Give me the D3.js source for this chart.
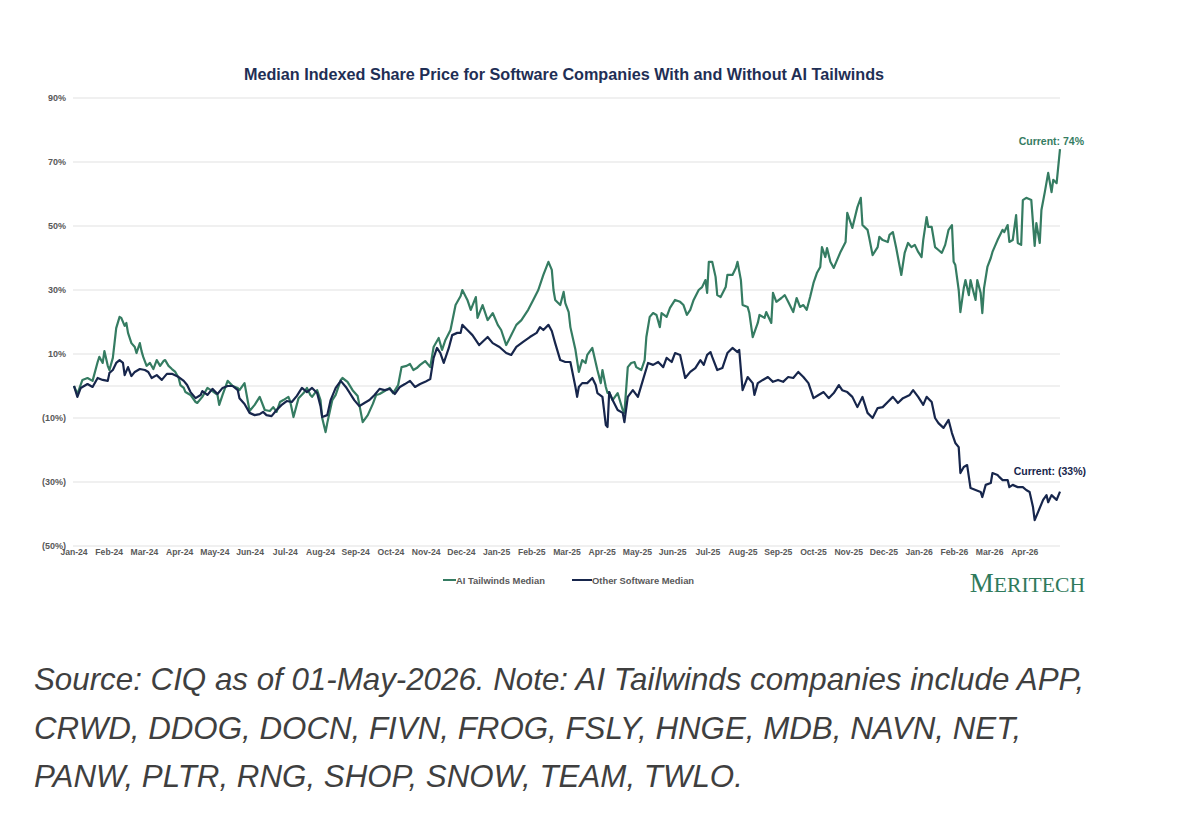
<!DOCTYPE html>
<html>
<head>
<meta charset="utf-8">
<script src="https://cdn.jsdelivr.net/npm/d3@7"></script>
<style>
  html, body { margin: 0; padding: 0; background: #fff; }
  svg { display: block; }
</style>
</head>
<body>
<svg id="chart" width="1200" height="827"></svg>
<script>
// month labels on the category axis (Excel style, evenly spaced)
const months = ["Jan-24","Feb-24","Mar-24","Apr-24","May-24","Jun-24","Jul-24","Aug-24","Sep-24","Oct-24","Nov-24","Dec-24",
  "Jan-25","Feb-25","Mar-25","Apr-25","May-25","Jun-25","Jul-25","Aug-25","Sep-25","Oct-25","Nov-25","Dec-25",
  "Jan-26","Feb-26","Mar-26","Apr-26"];
const yTicks = [90, 70, 50, 30, 10, -10, -30, -50];
const TOTAL_DAYS = 584; // trading days from Jan-24 to 01-May-26

// [trading day, indexed change %]
const aiTailwinds = [
  [0,0],[2,-2.5],[5,1.9],[8,2.5],[11,1.6],[14,7.5],[15,9.1],[17,7.2],[18,10.9],[20,6.3],[21,5.0],[23,8.8],[24,13.4],[25,18.1],
  [27,21.6],[28,21.3],[30,18.8],[31,19.7],[32,16.6],[34,13.4],[36,12.2],[37,10.3],[39,13.4],[40,10.9],[41,9.1],[43,6.3],
  [45,7.2],[47,5.3],[49,8.1],[51,6.3],[53,7.8],[54,8.1],[56,6.3],[58,5.3],[60,4.4],[62,2.5],[63,0.3],[65,-0.6],[66,-1.9],
  [69,-2.8],[72,-5.0],[73,-5.3],[76,-3.4],[79,-0.6],[82,-1.6],[85,-2.8],[86,-5.9],[88,-2.8],[91,1.6],[94,0],[97,-0.6],
  [98,-1.3],[101,0.9],[104,-7.8],[107,-5.9],[110,-3.4],[113,-7.5],[116,-7.8],[118,-6.6],[120,-8.1],[122,-5.0],[124,-4.4],
  [127,-3.4],[128,-4.7],[130,-9.7],[133,-3.8],[136,-2.2],[138,-0.6],[140,-2.8],[141,-3.4],[144,-1.3],[146,-4.4],[147,-10.0],
  [149,-14.4],[150,-11.6],[153,-4.4],[155,-2.8],[158,1.9],[159,2.5],[162,1.3],[165,-1.3],[168,-3.1],[171,-11.3],[174,-9.1],
  [177,-5.6],[179,-2.8],[181,-2.5],[183,-1.9],[185,-1.3],[187,-0.6],[189,-2.2],[192,0.3],[194,5.9],[197,6.3],[199,6.9],
  [201,5.0],[203,5.6],[205,6.6],[208,7.8],[211,5.9],[213,12.2],[216,15.0],[218,11.3],[220,14.4],[223,17.5],[226,25.3],
  [229,28.1],[230,30.0],[233,26.9],[235,23.8],[238,27.8],[239,21.3],[242,25.3],[245,20.6],[248,22.8],[251,19.1],[253,17.5],
  [256,12.8],[259,15.9],[262,19.1],[265,20.6],[269,23.8],[272,26.9],[275,30.0],[278,34.7],[281,38.8],[283,36.3],[284,30.0],
  [285,26.9],[288,25.3],[290,29.4],[291,25.9],[293,23.1],[294,18.4],[297,11.3],[299,4.4],[301,8.1],[303,7.2],[304,9.7],
  [307,11.9],[310,5.0],[312,0.9],[313,5.0],[315,-0.3],[316,-2.2],[317,-1.9],[319,-4.4],[322,-2.2],[325,-7.5],[326,-8.4],
  [328,5.9],[330,7.2],[332,7.5],[333,5.9],[336,5.0],[338,8.1],[339,15.3],[341,21.6],[343,22.8],[345,22.2],[347,18.4],
  [348,22.8],[351,21.6],[353,24.4],[356,26.9],[359,26.3],[361,25.3],[363,22.2],[365,23.8],[367,26.9],[370,30.0],[372,30.9],
  [374,33.1],[375,29.1],[376,38.8],[378,38.8],[380,34.1],[381,28.4],[383,27.8],[386,30.9],[387,34.7],[390,34.7],[392,36.9],
  [393,38.8],[395,33.1],[396,25.3],[399,24.7],[400,22.8],[402,15.3],[405,19.7],[406,22.2],[409,21.3],[410,23.1],[413,19.7],
  [414,29.1],[416,26.3],[419,27.5],[421,28.4],[423,26.3],[426,23.1],[428,27.5],[430,24.7],[432,25.3],[434,23.8],[436,27.8],
  [438,32.2],[440,35.3],[442,37.2],[443,43.4],[445,40.3],[446,43.1],[448,38.8],[450,36.9],[452,39.4],[454,41.9],[457,45.0],
  [458,54.1],[461,49.4],[464,55.9],[466,58.8],[467,50.3],[470,48.8],[471,46.3],[473,40.9],[476,43.4],[477,46.6],[479,45.6],
  [482,45.0],[483,47.2],[485,48.1],[487,43.1],[490,34.7],[492,41.6],[494,44.7],[496,43.4],[498,44.1],[500,41.9],[502,40.3],
  [503,45.6],[505,52.8],[506,49.7],[508,49.7],[510,43.4],[512,42.5],[514,41.6],[516,44.1],[518,48.8],[520,50.3],[521,38.8],
  [522,37.8],[524,30.0],[525,23.1],[527,30.6],[528,33.1],[530,28.4],[531,33.1],[532,30.9],[534,26.9],[535,33.1],[537,29.1],
  [538,22.8],[539,30.6],[541,37.2],[543,40.0],[544,41.9],[547,45.6],[550,48.8],[551,48.1],[553,50.3],[554,45.0],[556,45.6],
  [558,53.4],[559,44.7],[561,44.1],[562,58.1],[564,58.8],[567,58.1],[569,43.8],[570,50.9],[572,44.7],[573,55.0],[575,60.6],
  [577,66.6],[579,60.6],[580,64.4],[582,63.4],[584,74.0]
];

const otherSoftware = [
  [0,0],[2,-3.4],[4,-0.6],[8,0.6],[11,-0.3],[14,2.5],[17,1.9],[20,1.6],[21,4.1],[23,5.0],[25,7.2],[27,8.1],[29,7.2],[30,3.4],
  [32,5.9],[34,3.1],[36,4.4],[39,5.3],[42,5.0],[44,4.4],[46,2.5],[49,3.4],[52,1.9],[55,3.8],[58,3.8],[62,2.8],[65,1.6],
  [67,0.3],[69,-1.9],[72,-3.8],[75,-2.8],[76,-1.6],[79,-2.8],[82,-0.9],[85,-2.5],[88,-0.6],[91,0],[94,0],[97,-1.3],[98,-3.8],
  [101,-5.6],[104,-8.4],[107,-9.1],[110,-8.8],[112,-8.1],[114,-9.1],[117,-9.4],[120,-7.5],[123,-5.9],[126,-4.7],[129,-5.0],
  [132,-3.1],[135,-0.6],[138,-1.9],[141,-0.6],[144,-2.2],[146,-6.3],[147,-9.7],[150,-9.1],[152,-4.4],[155,-0.6],[158,1.6],
  [161,-0.3],[163,-1.9],[166,-4.4],[169,-6.3],[172,-5.3],[175,-4.4],[178,-2.8],[181,-0.9],[184,-1.3],[187,-0.9],[190,-2.5],
  [193,-0.3],[196,0.6],[199,1.6],[202,-0.3],[205,0.6],[208,1.3],[211,2.2],[213,8.8],[215,11.9],[217,10.3],[219,7.2],[222,11.9],
  [224,15.9],[227,16.6],[229,16.6],[230,19.1],[233,17.5],[236,15.9],[240,12.8],[245,15.3],[248,13.4],[252,12.2],[256,10.3],
  [259,9.7],[262,12.2],[266,13.8],[270,15.3],[274,16.6],[276,18.4],[278,17.5],[281,19.1],[283,17.2],[285,13.4],[288,8.1],
  [291,7.5],[294,7.5],[297,-0.3],[298,-3.4],[299,-0.3],[301,0.9],[304,0.9],[307,2.5],[309,0.3],[310,-2.2],[313,-3.4],
  [315,-12.2],[316,-12.8],[317,-1.9],[319,-4.4],[322,-7.5],[325,-8.4],[326,-11.3],[328,-3.4],[331,-1.3],[334,-3.4],[337,1.9],
  [340,7.2],[343,6.6],[346,7.5],[349,5.9],[351,8.8],[354,7.5],[356,10.3],[359,9.7],[362,2.5],[365,4.4],[368,5.6],[371,8.1],
  [373,6.6],[375,9.7],[377,10.6],[378,9.1],[381,5.0],[384,5.6],[387,10.3],[390,11.9],[393,10.6],[394,11.3],[396,-1.3],
  [399,2.8],[402,0.9],[403,-2.8],[405,0.9],[408,1.9],[411,2.8],[414,1.3],[417,1.9],[420,1.3],[423,2.8],[426,2.5],[429,4.4],
  [432,2.8],[435,0.9],[438,-3.8],[441,-2.8],[444,-1.9],[447,-3.8],[450,-2.2],[453,0.3],[455,-1.3],[458,-1.9],[461,-3.4],
  [464,-6.6],[467,-3.4],[470,-8.4],[473,-10.0],[476,-6.9],[479,-6.6],[482,-5.0],[485,-3.4],[488,-5.3],[491,-3.8],[495,-2.8],
  [497,-1.3],[500,-3.4],[503,-5.9],[505,-3.4],[508,-5.0],[510,-10.0],[512,-11.6],[515,-13.1],[518,-10.6],[520,-14.7],
  [522,-17.8],[524,-19.1],[525,-27.2],[527,-25.3],[529,-24.7],[531,-31.9],[534,-32.5],[537,-33.1],[538,-34.7],[540,-30.9],
  [543,-30.3],[544,-27.2],[547,-27.8],[548,-28.4],[550,-29.4],[553,-29.4],[554,-31.6],[556,-30.9],[559,-31.6],[562,-31.6],
  [564,-32.5],[566,-33.1],[568,-37.8],[569,-41.9],[571,-39.4],[574,-35.6],[576,-34.1],[577,-36.3],[579,-34.1],[582,-35.6],
  [584,-33.0]
];

const seriesNames = ["AI Tailwinds Median", "Other Software Median"];
const seriesColors = ["#357c62", "#17264c"];
const noteLines = [
  "Source: CIQ as of 01-May-2026. Note: AI Tailwinds companies include APP,",
  "CRWD, DDOG, DOCN, FIVN, FROG, FSLY, HNGE, MDB, NAVN, NET,",
  "PANW, PLTR, RNG, SHOP, SNOW, TEAM, TWLO."
];

const svg = d3.select("#chart");
const plotLeft = 74, plotRight = 1060, plotTop = 98, plotBottom = 546;

const x = d3.scaleLinear().domain([0, TOTAL_DAYS]).range([plotLeft, plotRight]);
const y = d3.scaleLinear().domain([-50, 90]).range([plotBottom, plotTop]);

const fmt = v => v < 0 ? "(" + (-v) + "%)" : v + "%";

// title
svg.append("text")
  .attr("x", 564).attr("y", 80)
  .attr("text-anchor", "middle")
  .style("font", "bold 16.2px 'Liberation Sans', Arial, sans-serif")
  .style("fill", "#1f2f55")
  .text("Median Indexed Share Price for Software Companies With and Without AI Tailwinds");

// gridlines (ticks plus the zero line)
svg.append("g")
  .selectAll("line")
  .data(yTicks.concat([0]))
  .join("line")
  .attr("x1", plotLeft - 1).attr("x2", plotRight)
  .attr("y1", d => y(d)).attr("y2", d => y(d))
  .attr("stroke", "#e1e1e1").attr("stroke-width", 1.2);

// y axis labels
svg.append("g")
  .selectAll("text")
  .data(yTicks)
  .join("text")
  .attr("x", 66).attr("y", d => y(d) + 3)
  .attr("text-anchor", "end")
  .style("font", "bold 9px 'Liberation Sans', Arial, sans-serif")
  .style("fill", "#595959")
  .text(fmt);

// x axis labels
svg.append("g")
  .selectAll("text")
  .data(months)
  .join("text")
  .attr("x", (d, i) => x(i * TOTAL_DAYS / 28))
  .attr("y", 555)
  .attr("text-anchor", "middle")
  .style("font", "bold 8.6px 'Liberation Sans', Arial, sans-serif")
  .style("fill", "#595959")
  .text(d => d);

const line = d3.line().x(d => x(d[0])).y(d => y(d[1]));

[aiTailwinds, otherSoftware].forEach((s, i) => {
  svg.append("path")
    .datum(s)
    .attr("d", line)
    .attr("fill", "none")
    .attr("stroke", seriesColors[i])
    .attr("stroke-width", 2.2)
    .attr("stroke-linejoin", "round");
});

// current value callouts
const lastAi = aiTailwinds[aiTailwinds.length - 1];
const lastOther = otherSoftware[otherSoftware.length - 1];
svg.append("text")
  .attr("x", x(lastAi[0]) + 24).attr("y", y(lastAi[1]) - 4)
  .attr("text-anchor", "end")
  .style("font", "bold 10.5px 'Liberation Sans', Arial, sans-serif")
  .style("fill", seriesColors[0])
  .text("Current: " + fmt(Math.round(lastAi[1])));
svg.append("text")
  .attr("x", x(lastOther[0]) + 26).attr("y", y(lastOther[1]) - 17)
  .attr("text-anchor", "end")
  .style("font", "bold 10.5px 'Liberation Sans', Arial, sans-serif")
  .style("fill", seriesColors[1])
  .text("Current: " + fmt(Math.round(lastOther[1])));

// legend
const legend = svg.append("g").attr("transform", "translate(443,580)");
const legendX = [0, 129];
seriesNames.forEach((n, i) => {
  const g = legend.append("g").attr("transform", "translate(" + legendX[i] + ",0)");
  g.append("line").attr("x1", 0).attr("x2", i === 0 ? 13 : 20)
    .attr("stroke", seriesColors[i]).attr("stroke-width", 2);
  g.append("text").attr("x", i === 0 ? 13 : 20).attr("y", 3.5)
    .style("font", "bold 9.4px 'Liberation Sans', Arial, sans-serif")
    .style("fill", "#595959")
    .text(n);
});

// logo
const logo = svg.append("text")
  .attr("x", 1085).attr("y", 592)
  .attr("text-anchor", "end")
  .style("font-family", "'Liberation Serif', 'DejaVu Serif', serif")
  .style("fill", "#2f7a5c");
logo.append("tspan").style("font-size", "27px").text("M");
logo.append("tspan").style("font-size", "21.6px").text("ERITECH");

// source note
svg.append("g")
  .selectAll("text")
  .data(noteLines)
  .join("text")
  .attr("x", 34)
  .attr("y", (d, i) => 690 + i * 48.5)
  .style("font", "italic 31.3px 'Liberation Sans', Arial, sans-serif")
  .style("fill", "#3f3f3f")
  .text(d => d);
</script>
</body>
</html>
